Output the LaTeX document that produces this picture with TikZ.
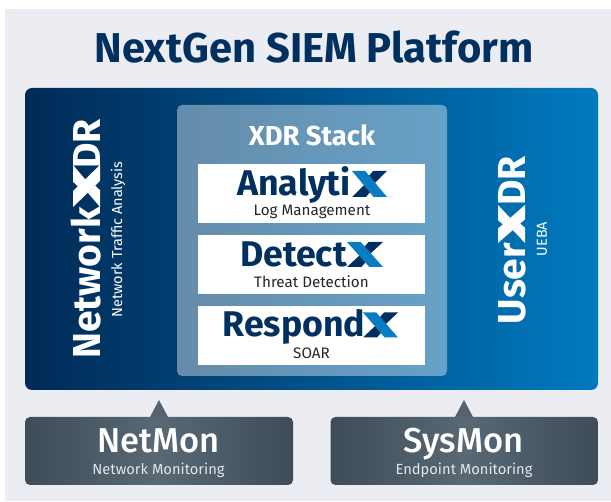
\documentclass[tikz,border=0pt]{standalone}
\usepackage{fontspec}
\setmainfont{Fira Sans}
\newfontfamily\firamedium{Fira Sans Medium}
\definecolor{panelgrey}{HTML}{ECEDF2}
\definecolor{navy}{HTML}{00305F}
\definecolor{xblue}{HTML}{0A7DC2}
\definecolor{panelleft}{HTML}{002A56}
\definecolor{panelright}{HTML}{007ABF}
\definecolor{monedge}{HTML}{3E4C58}
\definecolor{monmid}{HTML}{586875}
\tikzset{
  pics/xlogo/.style 2 args={code={
    \fill[#1] (-0.5,-0.5) -- (-0.12,-0.5) -- (0.5,0.5) -- (0.12,0.5) -- cycle;
    \fill[#2] (0.1,-0.5) -- (0.5,-0.5) -- (0.16,-0.05) -- (-0.01,-0.32) -- cycle;
    \fill[#2] (-0.5,0.5) -- (-0.1,0.5) -- (0.01,0.32) -- (-0.16,0.05) -- cycle;
  }},
  wordtext/.style={anchor=base,text=navy,font=\bfseries\fontsize{35.7}{36}\selectfont,inner sep=0pt},
  subtext/.style={anchor=center,text=black!85,font=\fontsize{15.2}{15}\selectfont,inner sep=0pt},
  sidetext/.style={anchor=base,rotate=90,text=white,font=\bfseries\fontsize{39}{39}\selectfont,inner sep=0pt},
  sidesub/.style={anchor=center,rotate=90,text=white,font=\fontsize{14.5}{15}\selectfont,inner sep=0pt},
  monbox/.style={rounded corners=5pt,left color=monedge,right color=monedge,middle color=monmid},
  montext/.style={anchor=base,text=white,font=\firamedium\fontsize{34.5}{35}\selectfont,inner sep=0pt},
  monsub/.style={anchor=center,text=white!90!black,font=\fontsize{14.7}{15}\selectfont,inner sep=0pt},
  whitebox/.style={fill=white}
}
\begin{document}
\begin{tikzpicture}[x=1pt,y=-1pt]
  \useasboundingbox (0,0) rectangle (611,502);
  \fill[panelgrey] (5,9) rectangle (611,501);
  \node[anchor=base,text=navy,font=\bfseries\fontsize{41.7}{42}\selectfont,inner sep=0pt] (title) at (314,63) {NextGen SIEM Platform};
  % main panel
  \shade[rounded corners=7pt,left color=panelleft,right color=panelright] (25,88) rectangle (598,390);
  \fill[white,opacity=0.4,rounded corners=5pt] (177,105) rectangle (447,376);
  \node[anchor=base,text=white,font=\bfseries\fontsize{27.4}{27}\selectfont,inner sep=0pt] (stacktitle) at (312,146) {XDR Stack};
  % stack boxes
  \fill[whitebox] (198,164) rectangle (425,223);
  \fill[whitebox] (198,235) rectangle (425,294);
  \fill[whitebox] (198,306) rectangle (425,365);
  \node[wordtext] (analytix) at (294,196) {Analyti};
  \pic[xscale=35,yscale=26] at (369.5,184) {xlogo={xblue}{navy}};
  \node[subtext] (logmgmt) at (312,212) {Log Management};
  \node[wordtext] (detect) at (293.5,267) {Detect};
  \pic[xscale=36,yscale=25] at (365,254.5) {xlogo={xblue}{navy}};
  \node[subtext] (threat) at (311.5,282) {Threat Detection};
  \node[wordtext] (respond) at (294,337) {Respond};
  \pic[xscale=35,yscale=25] at (380.5,325) {xlogo={xblue}{navy}};
  \node[subtext] (soar) at (311.5,353) {SOAR};
  % side labels
  \node[sidetext] (network) at (100,283) {Network};
  \pic[rotate=90,xscale=42,yscale=27] at (86.5,186) {xlogo={white}{white}};
  \node[sidetext] (networkdr) at (100,144) {DR};
  \node[sidesub] (nta) at (118,239.5) {Network Traffic Analysis};
  \node[sidetext] (user) at (525,283.5) {User};
  \pic[rotate=90,xscale=38,yscale=27] at (511.5,224) {xlogo={white}{white}};
  \node[sidetext] (userdr) at (525,181) {DR};
  \node[sidesub] (ueba) at (542,239) {UEBA};
  % monitor boxes
  \fill[monmid!95!black] (150,417) -- (159,400) -- (168,417) -- cycle;
  \fill[monmid!95!black] (455,417) -- (464,400) -- (473,417) -- cycle;
  \shade[monbox] (25,417) rectangle (293,485);
  \shade[monbox] (330.5,417) rectangle (598,485);
  \node[montext] (netmon) at (158.5,453) {NetMon};
  \node[monsub] (netmonsub) at (158.5,470) {Network Monitoring};
  \node[montext] (sysmon) at (463.5,453) {SysMon};
  \node[monsub] (sysmonsub) at (464,470) {Endpoint Monitoring};
\end{tikzpicture}
\end{document}
